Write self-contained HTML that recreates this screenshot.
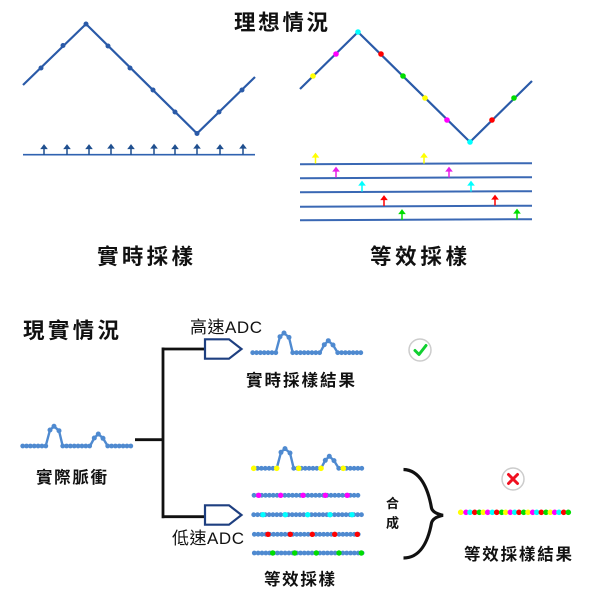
<!DOCTYPE html>
<html><head><meta charset="utf-8"><style>
html,body{margin:0;padding:0;background:#fff}
svg{display:block}
text{font-family:"Liberation Sans","Noto Sans CJK TC",sans-serif;fill:#111}
.t{font-size:21.5px;font-weight:700}
.s{font-size:16.5px;font-weight:700}
.a{font-size:17px;font-weight:400}
.d{stroke:#4f8ad0;stroke-width:4.8;stroke-linecap:round;stroke-dasharray:0 3.85;fill:none}
.p{stroke:#4f8ad0;stroke-width:2.4;fill:none;stroke-linejoin:round}
.w{stroke:#2a5aa8;stroke-width:2.2;fill:none}
</style></head><body>
<svg width="600" height="600" viewBox="0 0 600 600" xmlns="http://www.w3.org/2000/svg">
<defs>
<g id="pulse">
<path class="p" d="M45.7 446L50 430L54 426.3L59 430.7L62.7 446M90 446L94.3 438L98.3 434L103 438.3L107.7 446"/>
<path class="d" d="M22.7 446H46M62.7 446H90.5M107.7 446H131"/>
<g fill="#4f8ad0"><circle cx="50" cy="430" r="2.5"/><circle cx="54" cy="426.3" r="2.5"/><circle cx="59" cy="430.7" r="2.5"/><circle cx="94.3" cy="438" r="2.5"/><circle cx="98.3" cy="434" r="2.5"/><circle cx="103" cy="438.3" r="2.5"/></g>
</g>
<path id="ar" d="M0 0V-8M-2.3 -6.6L0 -9.6L2.3 -6.6Z" stroke-width="1.5"/>
</defs>

<text class="t" x="234" y="30" textLength="94">理想情況</text>
<text class="t" x="97" y="264" textLength="96">實時採樣</text>
<text class="t" x="370" y="264" textLength="97">等效採樣</text>
<text class="t" x="23" y="338" textLength="96">現實情況</text>

<!-- left wave -->
<path class="w" d="M23 85L86 24L197 133.5L255 77"/>
<g fill="#2a5aa8">
<circle cx="41" cy="68" r="2.5"/><circle cx="63" cy="45.5" r="2.5"/><circle cx="86" cy="24" r="2.5"/><circle cx="108" cy="46" r="2.5"/><circle cx="130" cy="68" r="2.5"/><circle cx="153" cy="90" r="2.5"/><circle cx="175" cy="112" r="2.5"/><circle cx="197" cy="133.5" r="2.5"/><circle cx="219" cy="112" r="2.5"/><circle cx="242" cy="90" r="2.5"/>
</g>
<path d="M23 154.7H255" stroke="#2f62b0" stroke-width="1.6" fill="none"/>
<g fill="#1f4f8f" stroke="#1f4f8f">
<use href="#ar" x="44" y="155"/><use href="#ar" x="67" y="155"/><use href="#ar" x="89" y="155"/><use href="#ar" x="111" y="154.5"/><use href="#ar" x="131" y="155"/><use href="#ar" x="154" y="154.5"/><use href="#ar" x="175" y="155"/><use href="#ar" x="197" y="154.5"/><use href="#ar" x="220" y="155"/><use href="#ar" x="243" y="154.5"/>
</g>

<!-- right wave -->
<path class="w" d="M300 89L358 32L470 142L532 81"/>
<circle cx="313" cy="76" r="2.8" fill="#ff0"/><circle cx="336" cy="54" r="2.8" fill="#f0f"/><circle cx="358" cy="32" r="2.8" fill="#0ff"/><circle cx="381" cy="54" r="2.8" fill="#f00"/><circle cx="403" cy="76" r="2.8" fill="#0d0"/><circle cx="425" cy="98" r="2.8" fill="#ff0"/><circle cx="447" cy="120" r="2.8" fill="#f0f"/><circle cx="470" cy="142" r="2.8" fill="#0ff"/><circle cx="492" cy="120" r="2.8" fill="#f00"/><circle cx="514" cy="98" r="2.8" fill="#0d0"/>
<g stroke="#3a68b4" stroke-width="2" fill="none">
<path d="M300 164.2L532 163.2"/><path d="M300 178.2L532 177.2"/><path d="M300 192.2L532 191.2"/><path d="M300 206.7L532 205.7"/><path d="M300 220.2L532 219.2"/>
</g>
<g fill="#ff0" stroke="#ff0"><use href="#ar" x="315.5" y="163.5"/><use href="#ar" x="424" y="163.5"/></g>
<g fill="#e81ee8" stroke="#e81ee8"><use href="#ar" x="336" y="177.5"/><use href="#ar" x="449" y="177.5"/></g>
<g fill="#0ff" stroke="#0ff"><use href="#ar" x="362" y="191.5"/><use href="#ar" x="471" y="191.5"/></g>
<g fill="#f00" stroke="#f00"><use href="#ar" x="384" y="206"/><use href="#ar" x="495" y="205.5"/></g>
<g fill="#0d0" stroke="#0d0"><use href="#ar" x="402" y="220"/><use href="#ar" x="517" y="219.5"/></g>

<!-- input -->
<use href="#pulse"/>
<text class="s" x="36" y="483" textLength="71">實際脈衝</text>
<path d="M135 439.7H163M163 349H204.5M163 516.7H204.5M163 347.5V518.2" stroke="#111" stroke-width="2.8" fill="none"/>
<path d="M205 339.3H229L241.5 349L229 358.7H205Z" fill="#fff" stroke="#1e3f80" stroke-width="2.2"/>
<path d="M205 505.3H229L241.5 515L229 524.7H205Z" fill="#fff" stroke="#1e3f80" stroke-width="2.2"/>
<text class="a" x="190" y="333" textLength="72">高速ADC</text>
<text class="a" x="172" y="544" textLength="72">低速ADC</text>

<!-- top output -->
<use href="#pulse" x="230" y="-93.3"/>
<text class="s" x="246" y="386" textLength="109">實時採樣結果</text>
<circle cx="420" cy="350" r="11" fill="#fff" stroke="#ccc" stroke-width="1.5"/>
<path d="M415 350.5L419 354.5L426 345.5" stroke="#10d030" stroke-width="3" fill="none" stroke-linecap="round" stroke-linejoin="round"/>

<!-- sampled -->
<use href="#pulse" x="231" y="22.3"/>
<g fill="#ff0"><circle cx="253.7" cy="468.3" r="2.8"/><circle cx="276.7" cy="468.3" r="2.8"/><circle cx="298.7" cy="468.3" r="2.8"/><circle cx="321" cy="468.3" r="2.8"/><circle cx="343.3" cy="468.3" r="2.8"/></g>
<path class="d" d="M254 495.3H361M253.7 514.7H362M254.3 534.3H362M254.3 553H364"/>
<g fill="#f0f"><circle cx="258.7" cy="495.3" r="2.7"/><circle cx="280.7" cy="495.3" r="2.7"/><circle cx="303" cy="495.3" r="2.7"/><circle cx="325.3" cy="495.3" r="2.7"/><circle cx="347.3" cy="495.3" r="2.7"/></g>
<g fill="#0ff"><circle cx="263" cy="514.7" r="2.7"/><circle cx="285.3" cy="514.7" r="2.7"/><circle cx="307.7" cy="514.7" r="2.7"/><circle cx="330" cy="514.7" r="2.7"/><circle cx="352" cy="514.7" r="2.7"/></g>
<g fill="#f00"><circle cx="268" cy="534.3" r="2.7"/><circle cx="290.3" cy="534.3" r="2.7"/><circle cx="312.3" cy="534.3" r="2.7"/><circle cx="334.7" cy="534.3" r="2.7"/><circle cx="357.3" cy="534.3" r="2.7"/></g>
<g fill="#0d0"><circle cx="272.7" cy="553" r="2.7"/><circle cx="294.7" cy="553" r="2.7"/><circle cx="316.3" cy="553" r="2.7"/><circle cx="339" cy="553" r="2.7"/><circle cx="361.3" cy="553" r="2.7"/></g>
<text class="s" x="264" y="585" textLength="71">等效採樣</text>

<!-- brace -->
<path d="M403.5 469.5C420 470 428 488 431.5 508C432.5 512 437 514 443 515.3C437 516.5 432.5 519 431.5 523C428 542 420 558 403.5 558" stroke="#111" stroke-width="3.2" fill="none"/>
<text x="386" y="508" font-size="13" font-weight="700">合</text>
<text x="386" y="527.5" font-size="13" font-weight="700">成</text>

<!-- result -->
<circle cx="513" cy="479" r="11" fill="#fff" stroke="#ccc" stroke-width="1.5"/>
<path d="M508.5 474.5L517.5 483.5M517.5 474.5L508.5 483.5" stroke="#f01020" stroke-width="3" stroke-linecap="round"/>
<g>
<circle cx="460.7" cy="512.3" r="2.8" fill="#ff0"/><circle cx="466" cy="512.3" r="2.8" fill="#f0f"/><circle cx="470" cy="512.3" r="2.8" fill="#0ff"/><circle cx="474.7" cy="512.3" r="2.8" fill="#f00"/><circle cx="479.3" cy="512.3" r="2.8" fill="#0d0"/>
<circle cx="483.3" cy="512.3" r="2.8" fill="#ff0"/><circle cx="487.7" cy="512.3" r="2.8" fill="#f0f"/><circle cx="492.3" cy="512.3" r="2.8" fill="#0ff"/><circle cx="496.7" cy="512.3" r="2.8" fill="#f00"/><circle cx="501.7" cy="512.3" r="2.8" fill="#0d0"/>
<circle cx="505.7" cy="512.3" r="2.8" fill="#ff0"/><circle cx="510.3" cy="512.3" r="2.8" fill="#f0f"/><circle cx="514.7" cy="512.3" r="2.8" fill="#0ff"/><circle cx="519" cy="512.3" r="2.8" fill="#f00"/><circle cx="523.7" cy="512.3" r="2.8" fill="#0d0"/>
<circle cx="528" cy="512.3" r="2.8" fill="#ff0"/><circle cx="532.7" cy="512.3" r="2.8" fill="#f0f"/><circle cx="536.7" cy="512.3" r="2.8" fill="#0ff"/><circle cx="541.3" cy="512.3" r="2.8" fill="#f00"/><circle cx="546" cy="512.3" r="2.8" fill="#0d0"/>
<circle cx="550.3" cy="512.3" r="2.8" fill="#ff0"/><circle cx="554.7" cy="512.3" r="2.8" fill="#f0f"/><circle cx="559" cy="512.3" r="2.8" fill="#0ff"/><circle cx="563.7" cy="512.3" r="2.8" fill="#f00"/><circle cx="568.3" cy="512.3" r="2.8" fill="#0d0"/>
</g>
<text class="s" x="464" y="560" textLength="108">等效採樣結果</text>
</svg>
</body></html>
